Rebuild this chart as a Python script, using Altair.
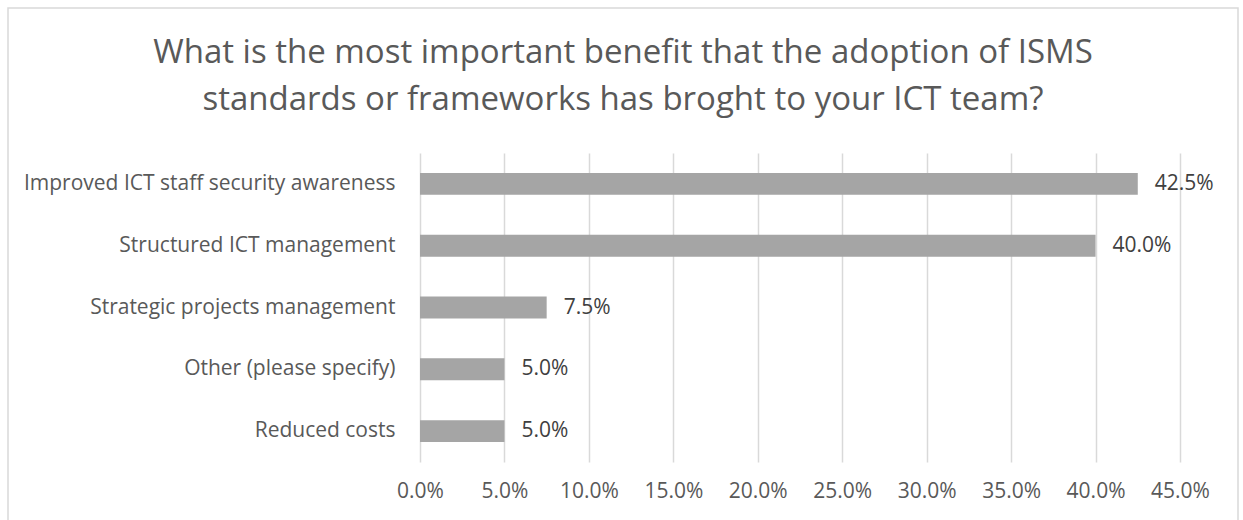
import altair as alt
import pandas as pd

categories = [
    "Improved ICT staff security awareness",
    "Structured ICT management",
    "Strategic projects management",
    "Other (please specify)",
    "Reduced costs",
]
values = [0.425, 0.400, 0.075, 0.050, 0.050]
tick_values = [0.0, 0.05, 0.10, 0.15, 0.20, 0.25, 0.30, 0.35, 0.40, 0.45]
title_lines = [
    "What is the most important benefit that the adoption of ISMS",
    "standards or frameworks has broght to your ICT team?",
]

df = pd.DataFrame({"category": categories, "value": values})

FONT = "Open Sans"
TXT = "#595959"
FS = 21

y_enc = alt.Y(
    "category:N",
    sort=categories,
    title=None,
    scale=alt.Scale(paddingInner=0.645, paddingOuter=0.3225),
    axis=alt.Axis(
        ticks=False, domain=False, labelFontSize=FS, labelColor=TXT,
        labelFont=FONT, labelPadding=25, labelLimit=500, grid=False,
    ),
)
x_enc = alt.X(
    "value:Q",
    title=None,
    scale=alt.Scale(domain=[0, 0.45], nice=False),
    axis=alt.Axis(
        values=tick_values, format=".1%", ticks=False, domain=False,
        grid=True, gridColor="#d9d9d9", gridWidth=1.5,
        labelFontSize=FS, labelColor=TXT, labelFont=FONT, labelPadding=18,
        labelFlush=False,
    ),
)

base = alt.Chart(df)
bars = base.mark_bar(color="#a5a5a5").encode(x=x_enc, y=y_enc)
labels = base.mark_text(
    align="left", baseline="middle", dx=17, fontSize=FS, font=FONT, color="#404040"
).encode(x="value:Q", y=alt.Y("category:N", sort=categories), text=alt.Text("value:Q", format=".1%"))

frame_data = alt.Data(values=[{"a": 1}])
border = alt.Chart(frame_data).mark_rect(
    fill="transparent", stroke="#d9d9d9", strokeWidth=1.5
).encode(
    x=alt.value(-412), x2=alt.value(818), y=alt.value(-145), y2=alt.value(380)
)
title = alt.Chart(frame_data).mark_text(
    text=title_lines, align="center", baseline="alphabetic", fontSize=33,
    font=FONT, color=TXT, lineHeight=47,
).encode(x=alt.value(203), y=alt.value(-90))

chart = alt.layer(border, title, bars, labels).properties(
    width=760,
    height=309,
    autosize=alt.AutoSizeParams(type="none"),
    padding={"left": 420, "top": 153, "right": 63, "bottom": 58},
    background="white",
).configure_view(stroke=None)

chart.save("out.html", embed_options={"renderer": "svg", "actions": False})
